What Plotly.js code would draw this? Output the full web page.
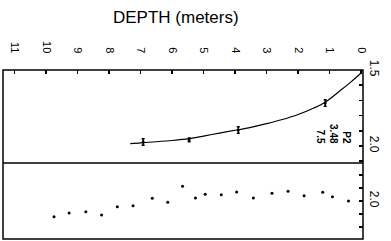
<!DOCTYPE html>
<html>
<head>
<meta charset="utf-8">
<script src="https://cdn.plot.ly/plotly-3.0.1.min.js"></script>
<style>html,body{margin:0;padding:0;background:#fff;}#chart{width:391px;height:241px;}</style>
</head>
<body>
<div id="chart"></div>
<script>
// Upper panel: measured points with error bars
const ptDepth = [1.14, 3.90, 5.46, 6.92];
const ptValue = [1.717, 1.895, 1.960, 1.974];
const ptError = [0.022, 0.022, 0.012, 0.022];

// Upper panel: fitted curve
const curveDepth = [0.0, 0.3, 0.6, 1.14, 1.5, 2.0, 2.5, 3.0, 3.5, 3.9, 4.5, 5.0, 5.46, 6.0, 6.5, 7.0, 7.33];
const curveValue = [1.52, 1.575, 1.625, 1.712, 1.75, 1.793, 1.826, 1.853, 1.877, 1.893, 1.915, 1.935, 1.952, 1.964, 1.972, 1.979, 1.985];

// Lower panel: scattered points
const lowDepth = [0.40, 0.91, 1.22, 1.81, 2.32, 2.83, 3.42, 3.95, 4.44, 4.95, 5.26, 5.67, 6.14, 6.63, 7.24, 7.74, 8.24, 8.74, 9.27, 9.75];
const lowValue = [2.000, 1.967, 1.933, 1.959, 1.925, 1.940, 1.977, 1.930, 1.951, 1.948, 1.977, 1.886, 2.010, 1.979, 2.036, 2.044, 2.109, 2.083, 2.093, 2.122];

// Axis ticks
const depthTicks = [0, 1, 2, 3, 4, 5, 6, 7, 8, 9, 10, 11];
const depthLabels = ["0", "1", "2", "3", "4", "5", "6", "7", "8", "9", "10", "11"];
const upperTicks = [1.5, 1.6, 1.7, 1.8, 1.9, 2.0, 2.1];
const upperLabels = ["1.5", "", "", "", "", "2.0", ""];
const lowerTicks = [1.8, 1.9, 2.0, 2.1, 2.2];
const lowerLabels = ["", "", "2.0", "", ""];
const labelText = "P2<br>3.48<br>7.5";

const fontFam = "Liberation Sans, Arial, sans-serif";
const split = 76/169;

const traces = [
  {x: curveDepth, y: curveValue, mode: 'lines', line: {color: '#000', width: 1.2, shape: 'spline', smoothing: 0.8}, xaxis: 'x', yaxis: 'y', hoverinfo: 'skip'},
  {x: ptDepth, y: ptValue, mode: 'markers', marker: {color: '#000', size: 3},
   error_y: {type: 'data', array: ptError, visible: true, color: '#000', thickness: 1.5, width: 1.5}, xaxis: 'x', yaxis: 'y'},
  {x: lowDepth, y: lowValue, mode: 'markers', marker: {color: '#000', size: 3}, xaxis: 'x', yaxis: 'y2'}
];

const layout = {
  width: 391, height: 241,
  margin: {l: 3, r: 28, t: 70, b: 2},
  paper_bgcolor: '#fff', plot_bgcolor: '#fff',
  showlegend: false,
  font: {family: fontFam, color: '#000', size: 11},
  title: {text: 'DEPTH (meters)', font: {family: fontFam, size: 17, color: '#000', weight: 500},
          xref: 'paper', x: 0.48, xanchor: 'center', yref: 'container', y: 0.93, yanchor: 'middle'},
  xaxis: {range: [11.37, -0.06], side: 'top', anchor: 'y', showgrid: false, zeroline: false, showline: false,
          tickmode: 'array', tickvals: depthTicks, ticktext: depthLabels, ticks: 'inside', ticklen: 4, tickwidth: 1.5,
          tickcolor: '#000', tickangle: 90, ticklabelstandoff: 14, tickfont: {size: 11, family: fontFam}},
  yaxis: {domain: [split, 1], range: [2.112, 1.5], side: 'right', anchor: 'x', showgrid: false, zeroline: false, showline: false,
          tickmode: 'array', tickvals: upperTicks, ticktext: upperLabels, ticks: 'inside', ticklen: 4, tickwidth: 1.5,
          tickcolor: '#000', tickangle: 90, ticklabelstandoff: 4, tickfont: {size: 12, family: fontFam}},
  yaxis2: {domain: [0, split], range: [2.295, 1.705], side: 'right', anchor: 'x', showgrid: false, zeroline: false, showline: false,
           tickmode: 'array', tickvals: lowerTicks, ticktext: lowerLabels, ticks: 'inside', ticklen: 4, tickwidth: 1.5,
           tickcolor: '#000', tickangle: 90, ticklabelstandoff: 4, tickfont: {size: 12, family: fontFam}},
  shapes: [
    {type: 'rect', xref: 'paper', yref: 'paper', x0: 0, x1: 1, y0: 0, y1: 1, line: {color: '#000', width: 1.5}},
    {type: 'line', xref: 'paper', yref: 'paper', x0: 0, x1: 1, y0: split, y1: split, line: {color: '#000', width: 1.5}}
  ],
  annotations: [
    {text: labelText, x: 0.9, y: 1.92, xref: 'x', yref: 'y', textangle: 90, align: 'right', showarrow: false,
     font: {family: fontFam, size: 10, color: '#000', weight: 'bold'}}
  ]
};

Plotly.newPlot('chart', traces, layout, {staticPlot: true, displayModeBar: false});
</script>
</body>
</html>
